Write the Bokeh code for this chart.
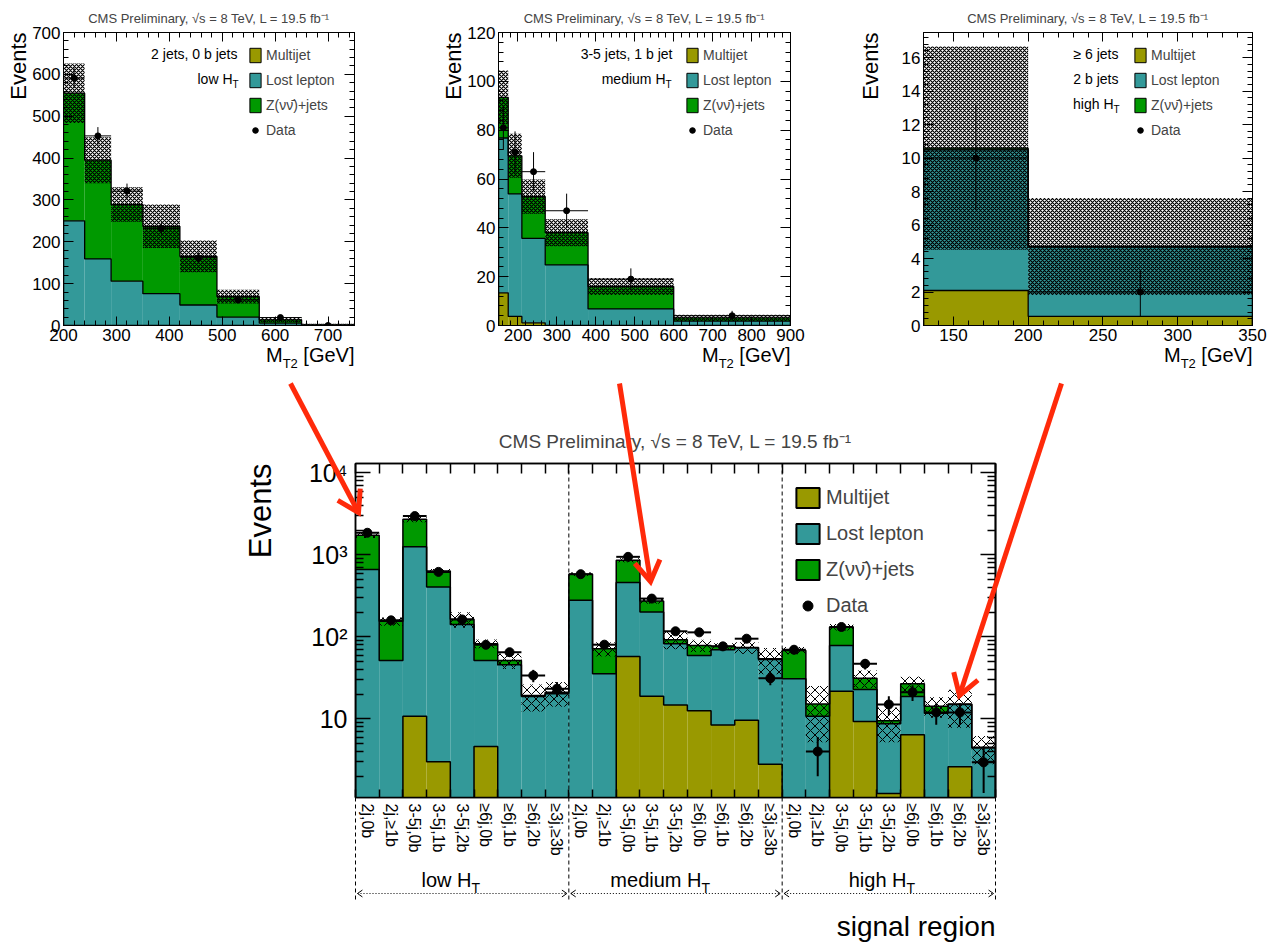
import math
import numpy as np
from bokeh.plotting import figure
from bokeh.layouts import column, row
from bokeh.models import (ColumnDataSource, Label, Legend, LegendItem, Span,
                          LinearAxis, LogAxis, FixedTicker, SingleIntervalTicker,
                          CustomJSTickFormatter, Range1d)
from bokeh.embed import file_html
from bokeh.resources import INLINE

FONT = "Liberation Sans"
C_MJ, C_LL, C_Z = "#999900", "#339999", "#009900"
RED = "#ff2a0a"
TITLE = "CMS Preliminary, \u221as = 8 TeV, L = 19.5 fb\u207b\u00b9"
LEG_LABELS = ["Multijet", "Lost lepton", "Z(\u03bd\u03bd\u0304)+jets", "Data"]
BASELINE_FIX = 0.4  # em offset between requested and drawn alphabetic baseline

# ---------------- top-left: 2 jets, 0 b jets, low HT ----------------
tl_edges = [200, 240, 290, 350, 420, 490, 570, 650, 750]
tl_multijet = [0, 0, 0, 0, 0, 0, 0, 0]
tl_lostlep = [250, 159, 106, 76, 49, 20, 5.6, 0.5]
tl_znunu = [305, 236, 183, 161, 116, 49, 8, 1.1]
tl_band = [71, 55, 41, 52, 38, 16.5, 6, 2.5]
tl_data = [591, 453, 321, 232, 162, 61, 19, 0]
tl_err_lo = [24, 21, 18, 15, 13, 8, 4.4, 0]
tl_err_hi = [24, 21, 18, 15, 13, 8, 4.4, 1]

# ---------------- top-middle: 3-5 jets, 1 b jet, medium HT ----------------
tm_edges = [150, 175, 210, 270, 380, 600, 900]
tm_multijet = [13.4, 3.7, 1.1, 0, 0, 0]
tm_lostlep = [63.4, 50.2, 34.6, 24.8, 6.8, 1.8]
tm_znunu = [16.6, 15.6, 17.1, 13.2, 9.2, 1.3]
tm_band = [11, 9, 7, 5.5, 3.5, 1.3]
tm_data = [81, 71, 63, 47, 19, 4]
tm_err_lo = [9, 8.5, 8, 7, 4.4, 2]
tm_err_hi = [9, 8.5, 8, 7, 4.4, 2]

# ---------------- top-right: >=6 jets, 2 b jets, high HT ----------------
tr_edges = [130, 200, 350]
tr_multijet = [2.09, 0.54]
tr_lostlep = [8.4, 4.15]
tr_znunu = [0.1, 0.03]
tr_band = [6.07, 2.9]
tr_data = [10, 2]
tr_err_lo = [3.1, 1.46]
tr_err_hi = [3.2, 1.3]

# ---------------- bottom: all signal regions ----------------
sr_labels = ["2j,0b", "2j,\u22651b", "3-5j,0b", "3-5j,1b", "3-5j,2b",
             "\u22656j,0b", "\u22656j,1b", "\u22656j,2b", "\u22653j,\u22653b"] * 3
sr_groups = ["low H", "medium H", "high H"]
sr_multijet = [0, 0, 10.8, 3.0, 0, 4.6, 0, 0, 0,
               0, 0, 57.8, 18.9, 14.8, 12.6, 8.4, 9.6, 2.8,
               0, 0, 21.7, 9.3, 1.23, 6.4, 0, 2.6, 0]
sr_lostlep = [665, 51.6, 1242, 403, 142, 47, 45.7, 18.7, 20.2,
              279, 35.5, 402, 182, 67.8, 46.8, 61.3, 64.2, 50.2,
              30.8, 10.8, 57, 13.5, 7.47, 12.3, 11.7, 12.4, 4.4]
sr_znunu = [1075, 103, 1457, 231, 22, 31, 5.9, 0.6, 0.9,
            302, 36.3, 401, 73, 9.9, 19.3, 6.9, 0.2, 1.0,
            37.6, 4.4, 53, 8.5, 0.8, 8.1, 2.6, 0.2, 0.1]
sr_band = [130, 18, 220, 36, 35, 10, 11, 7, 7,
           30, 14, 50, 20, 22, 13.5, 7, 12, 19,
           7, 10, 12, 7.7, 4.3, 6, 4, 7.4, 1.7]
sr_data = [1860, 159, 2970, 620, 163, 80, 65, 33.8, 23.3,
           581, 80.3, 946, 293, 117, 113.5, 76.6, 95, 31.3,
           69.7, 4.0, 132, 47, 15, 21.1, 12, 12, 2.95]
sr_data_err = [43, 13, 54, 25, 13, 9, 8, 5.8, 4.8,
               24, 9, 31, 17, 11, 10.7, 8.8, 9.7, 5.6,
               8.3, 2, 11.5, 6.9, 3.9, 4.6, 3.5, 3.5, 1.7]


def step_path(edges, tops, base):
    xs, ys = [edges[0]], [base]
    for i, t in enumerate(tops):
        xs += [edges[i], edges[i + 1]]
        ys += [t, t]
    xs.append(edges[-1])
    ys.append(base)
    return xs, ys


def style_ax(ax, maj, mnr, fs, standoff, lw=1):
    ax.major_tick_in = maj
    ax.major_tick_out = 0
    ax.minor_tick_in = mnr
    ax.minor_tick_out = 0
    ax.axis_line_color = "black"
    ax.axis_line_width = lw
    ax.major_tick_line_color = "black"
    ax.minor_tick_line_color = "black"
    ax.major_tick_line_width = lw
    ax.minor_tick_line_width = lw
    ax.major_label_text_font = FONT
    ax.major_label_text_color = "black"
    ax.major_label_text_font_size = fs
    ax.major_label_standoff = standoff


def mirror_axis(p, side, positions, length, log=False, lw=1):
    """Axis without labels: ticks only (drawn as minor ticks)."""
    cls = LogAxis if log else LinearAxis
    ax = cls(ticker=FixedTicker(ticks=[], minor_ticks=list(positions)))
    ax.major_tick_in = 0
    ax.major_tick_out = 0
    ax.minor_tick_in = length
    ax.minor_tick_out = 0
    ax.minor_tick_line_color = "black"
    ax.minor_tick_line_width = lw
    ax.axis_line_color = "black"
    ax.axis_line_width = lw
    ax.major_label_standoff = 0
    p.add_layout(ax, side)


def tick_lists(lo, hi, step, nminor=5):
    first = math.ceil(lo / step - 1e-9)
    majors, minors = [], []
    k = first - 1
    while k * step <= hi + 1e-9:
        v = k * step
        if lo - 1e-9 <= v <= hi + 1e-9:
            majors.append(v)
        for j in range(1, nminor):
            m = v + j * step / nminor
            if lo < m < hi:
                minors.append(m)
        k += 1
    return majors, minors


def add_legend(p, renderers, left_px, bottom_px, gw, gh, spacing, fs):
    items = [LegendItem(label=t, renderers=[r]) for t, r in zip(LEG_LABELS, renderers)]
    leg = Legend(items=items, location=(left_px, bottom_px), glyph_width=gw, glyph_height=gh,
                 label_height=gh, spacing=spacing, label_standoff=4, padding=0, margin=0,
                 label_text_font=FONT, label_text_font_size=fs, border_line_color=None,
                 background_fill_alpha=0)
    p.add_layout(leg)


def lab(p, x, y, text, size_px, align="left", angle=0.0):
    p.add_layout(Label(x=x, y=y, text=text, text_align=align, text_baseline="alphabetic",
                       text_font=FONT, text_font_size=f"{size_px}px", angle=angle,
                       text_color="black"))


FT, FH, FB = 32, 293, 45


def top_panel(edges, mj, ll, zz, band, dat, dlo, dhi, *, origin, bl, fw, br, x_rng, y_rng,
              x_step, y_step, info, legend_left):
    x0, x1 = x_rng
    y0, y1 = y_rng
    fl = origin + bl

    def dx(px):
        return x0 + (px - fl) * (x1 - x0) / fw

    def dy(py):
        return y0 + (FT + FH - py) * (y1 - y0) / FH

    p = figure(frame_width=fw, frame_height=FH, min_border_left=bl, min_border_right=br,
               min_border_top=FT, min_border_bottom=FB, x_range=Range1d(x0, x1),
               y_range=Range1d(y0, y1), toolbar_location=None, output_backend="svg",
               title=TITLE, background_fill_color="white", border_fill_color="white")
    p.title.align = "center"
    p.title.text_font = FONT
    p.title.text_font_size = "13px"
    p.title.text_font_style = "normal"
    p.title.standoff = 14
    p.grid.visible = False
    p.outline_line_color = "black"

    e = np.array(edges, float)
    left, right = e[:-1], e[1:]
    c1 = np.array(mj, float)
    c2 = c1 + np.array(ll, float)
    c3 = c2 + np.array(zz, float)
    b = np.array(band, float)
    src = ColumnDataSource(dict(left=left, right=right, b0=np.zeros_like(c1), c1=c1, c2=c2, c3=c3,
                                lo=c3 - b, hi=c3 + b))
    p.quad(left="left", right="right", bottom="b0", top="c1", source=src, fill_color=C_MJ, line_color=None)
    p.quad(left="left", right="right", bottom="c1", top="c2", source=src, fill_color=C_LL, line_color=None)
    p.quad(left="left", right="right", bottom="c2", top="c3", source=src, fill_color=C_Z, line_color=None)
    for c in (c1, c2, c3):
        xs, ys = step_path(list(e), list(c), 0)
        p.line(xs, ys, line_color="black", line_width=1.3)
    p.quad(left="left", right="right", bottom="lo", top="hi", source=src, fill_color=None,
           line_color=None, hatch_pattern="diagonal_cross", hatch_scale=4, hatch_weight=1.2,
           hatch_color="black")

    d = np.array(dat, float)
    ctr = (left + right) / 2
    p.segment(x0=ctr, y0=d - np.array(dlo), x1=ctr, y1=d + np.array(dhi), line_color="black", line_width=1)
    p.segment(x0=left, y0=d, x1=right, y1=d, line_color="black", line_width=1)
    r_data = p.scatter(ctr, d, size=6, marker="circle", color="black")

    # legend swatches: zero-height boxes on the baseline, carrying the legend styling
    leg_r = [p.quad(left="left", right="right", bottom="b0", top="b0", source=src, fill_color=col,
                    line_color="black", line_width=1) for col in (C_MJ, C_LL, C_Z)]
    gh, sp = 18, 7
    top_px = 46
    hgt = 4 * gh + 3 * sp
    add_legend(p, leg_r + [r_data], legend_left - fl, (FT + FH) - (top_px + hgt), 14, gh, sp, "14px")

    xt = SingleIntervalTicker(interval=x_step, num_minor_ticks=5)
    yt = SingleIntervalTicker(interval=y_step, num_minor_ticks=5)
    p.xaxis.ticker = xt
    p.yaxis.ticker = yt
    style_ax(p.below[0], 9, 5, "17px", 3)
    style_ax(p.left[0], 10, 5, "17px", 3)
    xmaj, xmin = tick_lists(x0, x1, x_step)
    ymaj, ymin = tick_lists(y0, y1, y_step)
    mirror_axis(p, "above", xmaj, 9)
    mirror_axis(p, "above", xmin, 5)
    mirror_axis(p, "right", ymaj, 10)
    mirror_axis(p, "right", ymin, 5)

    for txt, sub, pxr, pyb in info:
        lab(p, dx(pxr), dy(pyb - BASELINE_FIX * 14), txt, 14, align="right")
        if sub:
            lab(p, dx(pxr), dy(pyb + 4 - BASELINE_FIX * 10), sub, 10, align="left")
    return p


p1 = top_panel(tl_edges, tl_multijet, tl_lostlep, tl_znunu, tl_band, tl_data, tl_err_lo, tl_err_hi,
               origin=0, bl=63, fw=291, br=71, x_rng=(200, 750), y_rng=(0, 700), x_step=100,
               y_step=100,
               info=[("2 jets, 0 b jets", None, 237, 59), ("low H", "T", 232, 84)],
               legend_left=248)
p2 = top_panel(tm_edges, tm_multijet, tm_lostlep, tm_znunu, tm_band, tm_data, tm_err_lo, tm_err_hi,
               origin=425, bl=73, fw=292, br=60, x_rng=(150, 900), y_rng=(0, 120), x_step=100,
               y_step=20,
               info=[("3-5 jets, 1 b jet", None, 672, 59), ("medium H", "T", 665, 84)],
               legend_left=685)
p3 = top_panel(tr_edges, tr_multijet, tr_lostlep, tr_znunu, tr_band, tr_data, tr_err_lo, tr_err_hi,
               origin=850, bl=73, fw=329, br=18, x_rng=(130, 350), y_rng=(0, 17.5), x_step=50,
               y_step=2,
               info=[("\u2265 6 jets", None, 1118, 59), ("2 b jets", None, 1118, 84),
                     ("high H", "T", 1113, 109)],
               legend_left=1133)

# ---------------- bottom figure ----------------
SR_FL, SR_FR, SR_FT, SR_FB = 355, 995, 463, 797
SR_YMIN, SR_YMAX = 1.1, 13000
NB = len(sr_labels)

p4 = figure(frame_width=SR_FR - SR_FL, frame_height=SR_FB - SR_FT, min_border_left=SR_FL,
            min_border_right=1270 - SR_FR, min_border_top=SR_FT - 370, min_border_bottom=944 - SR_FB,
            x_range=Range1d(0, NB), y_range=Range1d(SR_YMIN, SR_YMAX), y_axis_type="log",
            toolbar_location=None, output_backend="svg", title=TITLE,
            background_fill_color="white", border_fill_color="white")
p4.title.align = "center"
p4.title.text_font = FONT
p4.title.text_font_size = "19px"
p4.title.text_font_style = "normal"
p4.title.standoff = 24
p4.grid.visible = False
p4.outline_line_color = "black"
p4.outline_line_width = 1.5

edges = np.arange(NB + 1, dtype=float)
BASE = 0.01
s1 = np.maximum(np.array(sr_multijet, float), BASE)
s2 = np.array(sr_multijet, float) + np.array(sr_lostlep, float)
s3 = s2 + np.array(sr_znunu, float)
sb = np.array(sr_band, float)
src4 = ColumnDataSource(dict(left=edges[:-1], right=edges[1:], b0=np.full(NB, BASE),
                             c1=s1, c2=s2, c3=s3, lo=s3 - sb, hi=s3 + sb))
p4.quad(left="left", right="right", bottom="b0", top="c1", source=src4, fill_color=C_MJ, line_color=None)
p4.quad(left="left", right="right", bottom="c1", top="c2", source=src4, fill_color=C_LL, line_color=None)
p4.quad(left="left", right="right", bottom="c2", top="c3", source=src4, fill_color=C_Z, line_color=None)
for c in (s1, s2, s3):
    xs, ys = step_path(list(edges), list(c), BASE)
    p4.line(xs, ys, line_color="black", line_width=1.5)
p4.quad(left="left", right="right", bottom="lo", top="hi", source=src4, fill_color=None,
        line_color=None, hatch_pattern="diagonal_cross", hatch_scale=9, hatch_weight=1,
        hatch_color="black")

d4 = np.array(sr_data, float)
e4 = np.array(sr_data_err, float)
ctr4 = (edges[:-1] + edges[1:]) / 2
p4.segment(x0=ctr4, y0=d4 - e4, x1=ctr4, y1=d4 + e4, line_color="black", line_width=2)
p4.segment(x0=edges[:-1], y0=d4, x1=edges[1:], y1=d4, line_color="black", line_width=2)
r4_data = p4.scatter(ctr4, d4, size=9, marker="circle", color="black")

leg4 = [p4.quad(left="left", right="right", bottom="b0", top="b0", source=src4, fill_color=col,
                line_color="black", line_width=2) for col in (C_MJ, C_LL, C_Z)]
gh4, sp4 = 25, 11
add_legend(p4, leg4 + [r4_data], 793 - SR_FL, SR_FB - (485 + 4 * gh4 + 3 * sp4), 29, gh4, sp4, "20px")

for k in (1, 2):
    p4.add_layout(Span(location=9 * k, dimension="height", line_color="black", line_width=1,
                       line_dash="4 3"))

xt4 = FixedTicker(ticks=list(ctr4), minor_ticks=list(edges))
p4.xaxis.ticker = xt4
p4.xaxis.formatter = CustomJSTickFormatter(
    args=dict(labels=sr_labels),
    code="const i = Math.floor(tick); return (i >= 0 && i < labels.length) ? labels[i] : '';")
p4.xaxis.major_label_orientation = "vertical"
style_ax(p4.below[0], 0, 8, "16px", 6, lw=1.5)
mirror_axis(p4, "above", edges, 10, lw=1.5)

log_major = [10, 100, 1000, 10000]
log_minor = [m * 10 ** k for k in range(0, 4) for m in range(2, 10)]
p4.yaxis.ticker = FixedTicker(ticks=log_major, minor_ticks=log_minor)
p4.yaxis.formatter = CustomJSTickFormatter(
    code="const m = {10: '10', 100: '10\u00b2', 1000: '10\u00b3', 10000: '10\u2074'}; "
         "const k = Math.round(tick); return (k in m) ? m[k] : '';")
style_ax(p4.left[0], 15, 8, "25px", 8, lw=1.5)
mirror_axis(p4, "right", log_major, 15, log=True, lw=1.5)
mirror_axis(p4, "right", log_minor, 8, log=True, lw=1.5)

# ---------------- page overlay (axis titles, region marks, call-out arrows) ----------------
W, H = 1270, 944
ov = figure(width=W, height=H, x_range=Range1d(0, W), y_range=Range1d(H, 0), min_border=0,
            toolbar_location=None, output_backend="svg", x_axis_location=None,
            y_axis_location=None, background_fill_alpha=0, border_fill_alpha=0,
            outline_line_color=None,
            styles={"position": "absolute", "left": "0px", "top": "0px", "z-index": "10",
                    "pointer-events": "none"})
ov.grid.visible = False


def ov_arrow(x0, y0, x1, y1, size, half_angle, color, width, dash="solid", both=False):
    ov.segment(x0=[x0], y0=[y0], x1=[x1], y1=[y1], line_color=color, line_width=width, line_dash=dash)
    ends = [(x0, y0, x1, y1)] + ([(x1, y1, x0, y0)] if both else [])
    for ax_, ay_, bx_, by_ in ends:
        ang = math.atan2(by_ - ay_, bx_ - ax_)
        a = math.radians(half_angle)
        hx = [bx_ - size * math.cos(ang - a), bx_, bx_ - size * math.cos(ang + a)]
        hy = [by_ - size * math.sin(ang - a), by_, by_ - size * math.sin(ang + a)]
        ov.line(hx, hy, line_color=color, line_width=width, line_join="miter")


def ov_text(x, y, text, size_px, align="left", vertical=False):
    if vertical:
        x = x - BASELINE_FIX * size_px
    else:
        y = y - BASELINE_FIX * size_px
    lab(ov, x, y, text, size_px, align=align, angle=(math.pi / 2 if vertical else 0.0))


# top panel axis titles
for fr_right, ev_x in [(354, 27), (790, 462), (1252, 879)]:
    ov_text(ev_x, FT, "Events", 22, align="right", vertical=True)
    ov_text(fr_right, 362, "[GeV]", 20, align="right")
    ov_text(fr_right - 56.7, 368, "T2", 13, align="right")
    ov_text(fr_right - 56.7 - 15.2, 362, "M", 20, align="right")

# bottom panel axis titles and region marks
bin_px = (SR_FR - SR_FL) / NB
ov_text(272, SR_FT, "Events", 31, align="right", vertical=True)
ov_text(SR_FR, 937, "signal region", 28, align="right")
for k in range(4):
    xk = SR_FL + 9 * k * bin_px
    ov.segment(x0=[xk], y0=[SR_FB], x1=[xk], y1=[900], line_color="black", line_width=1,
               line_dash="4 3")
for k in range(3):
    xa = SR_FL + 9 * k * bin_px + 2
    xe = SR_FL + 9 * (k + 1) * bin_px - 2
    ov_arrow(xa, 893, xe, 893, 6, 35, "black", 1, dash="1 2", both=True)
for grp, hx in zip(sr_groups, [471, 701, 906]):
    ov_text(hx, 887, grp, 20, align="right")
    ov_text(hx, 893, "T", 14, align="left")

# red call-out arrows
for (sx, sy), (ex, ey) in [((290, 383), (358, 512)), ((619, 383), (650, 581)),
                           ((1061, 383), (959, 695))]:
    ov_arrow(sx, sy, ex, ey, 24, 32, RED, 5)

layout = column(row(p1, p2, p3), p4)
open("out.html", "w").write(file_html([layout, ov], INLINE))
